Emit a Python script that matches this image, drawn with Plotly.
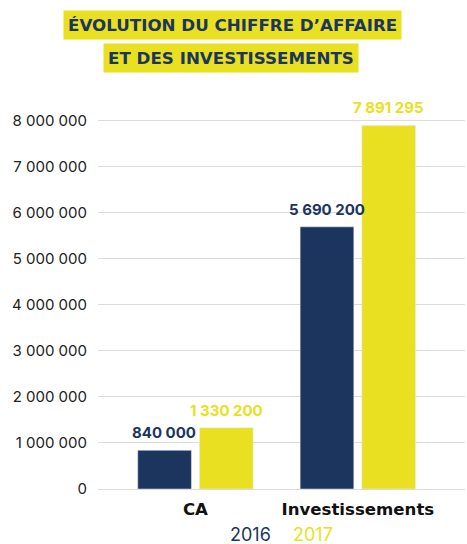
import plotly.graph_objects as go

categories = ["CA", "Investissements"]
values_2016 = [840000, 5690200]
values_2017 = [1330200, 7891295]
labels_2016 = ["840 000", "5 690 200"]
labels_2017 = ["1 330 200", "7 891 295"]
series_names = ["2016", "2017"]
title_lines = ["ÉVOLUTION DU CHIFFRE D’AFFAIRE", "ET DES INVESTISSEMENTS"]
y_ticks = [0, 1000000, 2000000, 3000000, 4000000, 5000000, 6000000, 7000000, 8000000]
y_tick_text = ["0", "1 000 000", "2 000 000", "3 000 000", "4 000 000",
               "5 000 000", "6 000 000", "7 000 000", "8 000 000"]

NAVY = "#1b355f"
YELLOW = "#e8e021"
FONT = "Inter"
BOLD = "DejaVu Sans"

W, H = 467, 544
ML, MR, MT, MB = 98, 2, 102, 55

fig = go.Figure()
fig.add_trace(go.Bar(x=categories, y=values_2016, name=series_names[0],
                     marker_color=NAVY))
fig.add_trace(go.Bar(x=categories, y=values_2017, name=series_names[1],
                     marker_color=YELLOW))

fig.update_layout(
    width=W, height=H,
    margin=dict(l=ML, r=MR, t=MT, b=MB),
    paper_bgcolor="white", plot_bgcolor="white",
    barmode="group", bargap=0.24, bargroupgap=0.13,
    showlegend=False,
    font=dict(family=FONT),
)
fig.update_xaxes(range=[-0.6, 1.66], showgrid=False, showline=False, zeroline=False,
                 ticks="", ticklabelstandoff=8,
                 tickfont=dict(size=16.6, color="#111", family=BOLD, weight="bold"))
fig.update_yaxes(range=[0, 8400000], tickvals=y_ticks, ticktext=y_tick_text,
                 showgrid=True, gridcolor="#dcdcdc", gridwidth=1,
                 zeroline=True, zerolinecolor="#dcdcdc", zerolinewidth=1,
                 showline=False, ticks="", ticklabelstandoff=10,
                 tickfont=dict(size=15, color="#222", family=FONT))

# value labels above bars (annotations so they are drawn on top of neighbouring bars)
for i, cat in enumerate(categories):
    fig.add_annotation(x=cat, y=values_2016[i], text=labels_2016[i], showarrow=False,
                       xshift=-31, yshift=6, yanchor="bottom", xanchor="center",
                       font=dict(color=NAVY, size=15, family=FONT, weight="bold"))
    fig.add_annotation(x=cat, y=values_2017[i], text=labels_2017[i], showarrow=False,
                       xshift=31, yshift=6, yanchor="bottom", xanchor="center",
                       font=dict(color=YELLOW, size=15, family=FONT, weight="bold"))

plot_h = H - MT - MB
plot_w = W - ML - MR
def py(y_px):
    return (H - MB - y_px) / plot_h
def px(x_px):
    return (x_px - ML) / plot_w

fig.add_annotation(text=title_lines[0], x=px(232), y=py(25), xref="paper", yref="paper",
                   showarrow=False, bgcolor=YELLOW, borderpad=4,
                   xanchor="center", yanchor="middle",
                   font=dict(size=16.7, color=NAVY, family=BOLD, weight="bold"))
fig.add_annotation(text=title_lines[1], x=px(231), y=py(58), xref="paper", yref="paper",
                   showarrow=False, bgcolor=YELLOW, borderpad=4,
                   xanchor="center", yanchor="middle",
                   font=dict(size=16.7, color=NAVY, family=BOLD, weight="bold"))

fig.add_annotation(text=series_names[0], x=px(250), y=py(534), xref="paper", yref="paper",
                   showarrow=False, xanchor="center", yanchor="middle",
                   font=dict(size=18, color=NAVY, family=FONT))
fig.add_annotation(text=series_names[1], x=px(313), y=py(534), xref="paper", yref="paper",
                   showarrow=False, xanchor="center", yanchor="middle",
                   font=dict(size=18, color=YELLOW, family=FONT))

fig.write_html("out.html", config={"displayModeBar": False},
               post_script="document.body.style.margin='0';document.body.style.padding='0';")
